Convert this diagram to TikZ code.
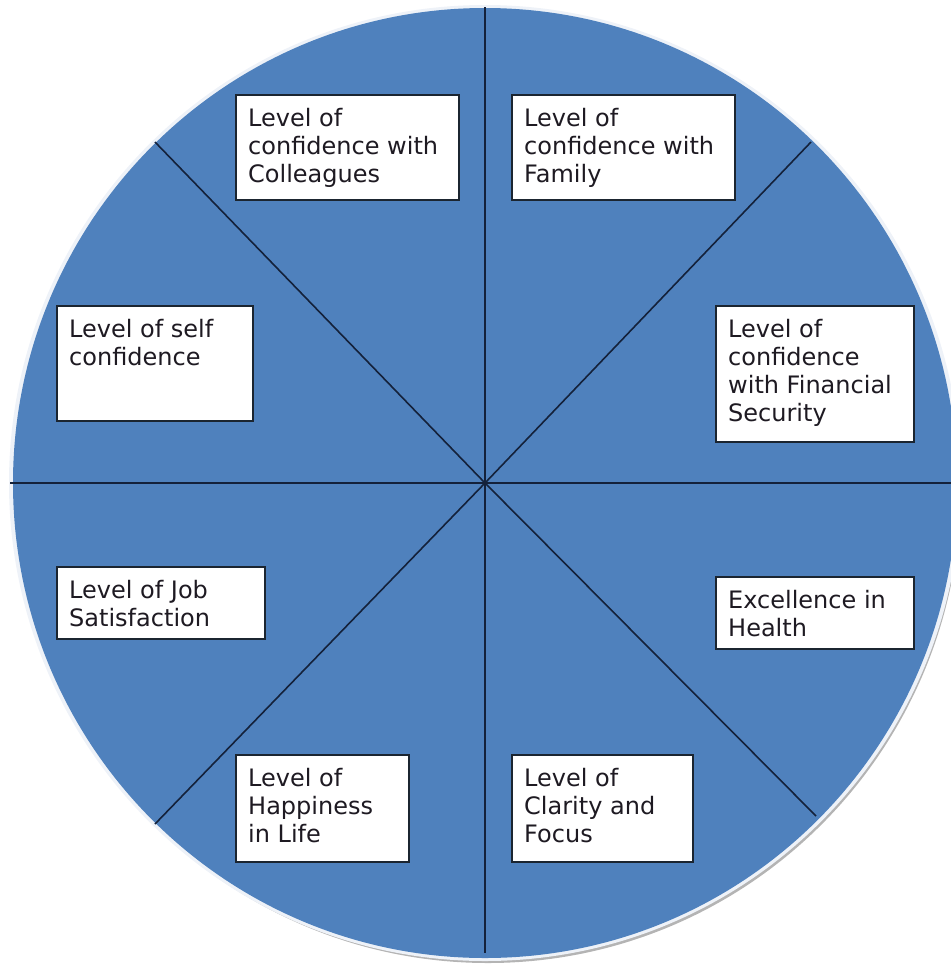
\documentclass[tikz,border=0pt]{standalone}
\usepackage{fontspec}
\setmainfont{DejaVu Sans}
\definecolor{wheelblue}{HTML}{4F81BD}
\definecolor{spoke}{HTML}{14213A}
\definecolor{boxline}{HTML}{1B2530}
\definecolor{txtcol}{HTML}{1E1A22}
\definecolor{rim}{HTML}{EEF2F8}
\definecolor{shadowgray}{HTML}{B4B4B4}
\tikzset{
  box/.style={draw=boxline, line width=1.7pt, fill=white, inner sep=0pt, anchor=north west},
  txt/.style={inner sep=0pt, anchor=north west, align=left, text=txtcol, font=\fontsize{24}{28}\selectfont},
  spokeline/.style={draw=spoke, line width=1.6pt}
}
\begin{document}
\begin{tikzpicture}[x=1pt,y=-1pt]
\useasboundingbox (0,0) rectangle (951,970);
\clip (0,0) rectangle (951,970);
% wheel
\fill[shadowgray] (488,487) ellipse [x radius=473, y radius=476];
\fill[rim] (485,483) ellipse [x radius=476, y radius=478];
\fill[wheelblue] (485,483) ellipse [x radius=472, y radius=475];
% spokes
\coordinate (c) at (485,483);
\coordinate (top) at (485,7);
\coordinate (bot) at (485,953);
\coordinate (lft) at (10,483);
\coordinate (rgt) at (951,483);
\coordinate (nw) at (155,142);
\coordinate (ne) at (811,142);
\coordinate (se) at (816,816);
\coordinate (sw) at (155,824);
\draw[spokeline] (top) -- (bot);
\draw[spokeline] (lft) -- (rgt);
\draw[spokeline] (nw) -- (c) -- (se);
\draw[spokeline] (ne) -- (c) -- (sw);
% boxes
\node[box, minimum width=223pt, minimum height=105pt] (b1) at (235,94) {};
\node[txt] (t1) at ([xshift=13pt,yshift=-14pt]b1.north west) {Level of\\confidence with\\Colleagues};
\node[box, minimum width=223pt, minimum height=105pt] (b2) at (511,94) {};
\node[txt] (t2) at ([xshift=13pt,yshift=-14pt]b2.north west) {Level of\\confidence with\\Family};
\node[box, minimum width=196pt, minimum height=115pt] (b3) at (56,305) {};
\node[txt] (t3) at ([xshift=13pt,yshift=-14pt]b3.north west) {Level of self\\confidence};
\node[box, minimum width=198pt, minimum height=136pt] (b4) at (715,305) {};
\node[txt] (t4) at ([xshift=13pt,yshift=-14pt]b4.north west) {Level of\\confidence\\with Financial\\Security};
\node[box, minimum width=208pt, minimum height=72pt] (b5) at (56,566) {};
\node[txt] (t5) at ([xshift=13pt,yshift=-14pt]b5.north west) {Level of Job\\Satisfaction};
\node[box, minimum width=198pt, minimum height=72pt] (b6) at (715,576) {};
\node[txt] (t6) at ([xshift=13pt,yshift=-14pt]b6.north west) {Excellence in\\Health};
\node[box, minimum width=173pt, minimum height=107pt] (b7) at (235,754) {};
\node[txt] (t7) at ([xshift=13pt,yshift=-14pt]b7.north west) {Level of\\Happiness\\in Life};
\node[box, minimum width=181pt, minimum height=107pt] (b8) at (511,754) {};
\node[txt] (t8) at ([xshift=13pt,yshift=-14pt]b8.north west) {Level of\\Clarity and\\Focus};
\end{tikzpicture}
\end{document}
